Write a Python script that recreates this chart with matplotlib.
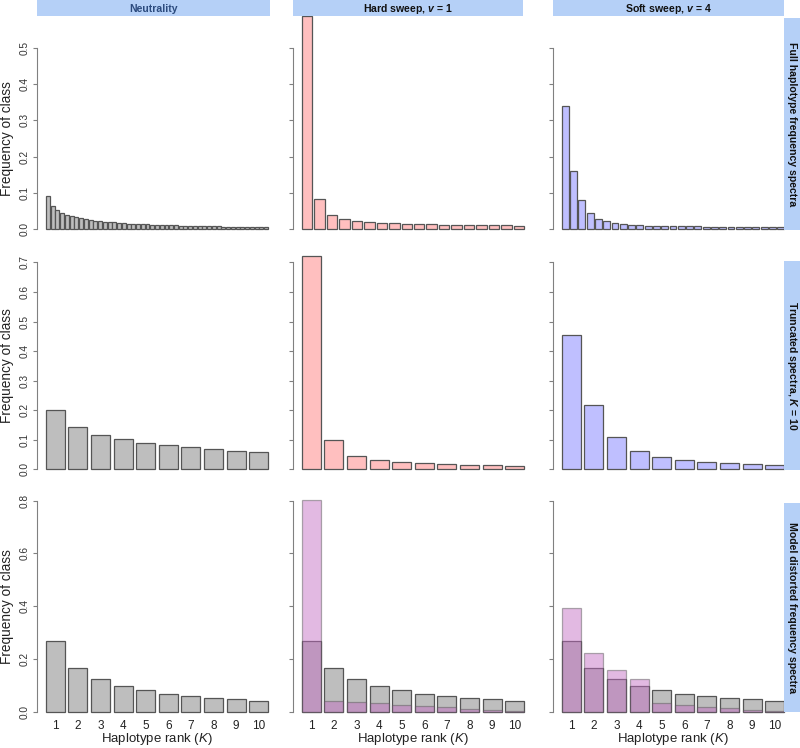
import matplotlib
matplotlib.use('Agg')
import matplotlib.pyplot as plt
from matplotlib.patches import Rectangle
from matplotlib.transforms import blended_transform_factory

plt.rcParams['font.family'] = ['Liberation Sans', 'DejaVu Sans']
plt.rcParams['mathtext.fontset'] = 'custom'
plt.rcParams['mathtext.rm'] = 'Liberation Sans'
plt.rcParams['mathtext.it'] = 'Liberation Sans:italic'
plt.rcParams['mathtext.bf'] = 'Liberation Sans:bold'
plt.rcParams['mathtext.bfit'] = 'Liberation Sans:bold:italic'

# ---------------- data ----------------
col_titles = ['Neutrality', r'Hard sweep, $\mathbfit{v}$ = 1', r'Soft sweep, $\mathbfit{v}$ = 4']
row_titles = ['Full haplotype frequency spectra',
              r'Truncated spectra, $\mathbfit{K}$ = 10',
              'Model distorted frequency spectra']
ranks = [1, 2, 3, 4, 5, 6, 7, 8, 9, 10]

# row 1: full spectra
full_neutral = [0.092, 0.064, 0.052, 0.045, 0.039, 0.035, 0.032, 0.029, 0.027, 0.025,
                0.023, 0.021, 0.020, 0.019, 0.018, 0.017, 0.016, 0.015, 0.014, 0.0135,
                0.013, 0.0125, 0.012, 0.0115, 0.011, 0.0105, 0.010, 0.0097, 0.0094, 0.0091,
                0.0088, 0.0085, 0.0082, 0.0079, 0.0076, 0.0073, 0.007, 0.0067, 0.0064, 0.0061,
                0.0058, 0.0055, 0.0052, 0.005, 0.0048, 0.0046, 0.0044]
full_hard = [0.588, 0.082, 0.039, 0.028, 0.022, 0.019, 0.017, 0.016, 0.015, 0.014,
             0.013, 0.012, 0.012, 0.011, 0.011, 0.010, 0.010, 0.009]
full_soft = [0.340, 0.160, 0.079, 0.043, 0.028, 0.021, 0.016, 0.013, 0.012, 0.010,
             0.0095, 0.009, 0.0085, 0.008, 0.0077, 0.0074, 0.0071, 0.0068, 0.0065, 0.0062,
             0.006, 0.0058, 0.0056, 0.0054, 0.0052, 0.005, 0.0048]

# row 2: truncated, K = 10
trunc_neutral = [0.200, 0.143, 0.118, 0.102, 0.091, 0.082, 0.075, 0.069, 0.064, 0.058]
trunc_hard = [0.722, 0.100, 0.045, 0.032, 0.025, 0.021, 0.018, 0.015, 0.014, 0.012]
trunc_soft = [0.454, 0.218, 0.110, 0.061, 0.041, 0.032, 0.026, 0.021, 0.020, 0.016]

# row 3: model distorted
dist_neutral = [0.268, 0.165, 0.123, 0.096, 0.081, 0.067, 0.058, 0.051, 0.047, 0.042]
dist_hard = [0.803, 0.041, 0.035, 0.032, 0.025, 0.022, 0.017, 0.011, 0.006, 0.001]
dist_soft = [0.392, 0.221, 0.157, 0.123, 0.034, 0.025, 0.019, 0.013, 0.008, 0.002]

row_ticks = [[0.0, 0.1, 0.2, 0.3, 0.4, 0.5],
             [0.0, 0.1, 0.2, 0.3, 0.4, 0.5, 0.6, 0.7],
             [0.0, 0.2, 0.4, 0.6, 0.8]]

# ---------------- style ----------------
C_GREY = '#bebebe'
C_PINK = '#ffbfbf'
C_BLUE = '#bfbfff'
C_OVER = '#c26ac2'
C_EDGE = '#555555'
C_STRIP = '#b5d0f7'
BW = 1 / 1.2  # R barplot: width 1, space 0.2

W, H = 800, 748
fig = plt.figure(figsize=(W / 100, H / 100), dpi=100)

col_x = [37, 293, 553]
col_w = 240
row_y = [(7.6, 237.5), (247.4, 478.0), (491.4, 720.2)]


def add_ax(x0, y0, x1, y1):
    return fig.add_axes([x0 / W, 1 - y1 / H, (x1 - x0) / W, (y1 - y0) / H])


panels = [
    [[(full_neutral, C_GREY)], [(full_hard, C_PINK)], [(full_soft, C_BLUE)]],
    [[(trunc_neutral, C_GREY)], [(trunc_hard, C_PINK)], [(trunc_soft, C_BLUE)]],
    [[(dist_neutral, C_GREY)],
     [(dist_neutral, C_GREY), (dist_hard, C_OVER)],
     [(dist_neutral, C_GREY), (dist_soft, C_OVER)]],
]

for r in range(3):
    row_max = max(max(vals) for col in panels[r] for vals, _ in col)
    for c in range(3):
        y0, y1 = row_y[r]
        ax = add_ax(col_x[c], y0, col_x[c] + col_w, y1)
        for vals, color in panels[r][c]:
            xs = list(range(1, len(vals) + 1))
            alpha = 0.47 if color == C_OVER else 1.0
            ax.bar(xs, vals, width=BW, color=color, alpha=alpha,
                   edgecolor=C_EDGE, linewidth=0.9)
        ax.use_sticky_edges = False
        ax.set_xmargin(0.04)
        ax.autoscale_view(scaley=False)
        ax.set_ylim(-0.04 * row_max, 1.04 * row_max)
        for s in ['top', 'right', 'bottom']:
            ax.spines[s].set_visible(False)
        ax.spines['left'].set_bounds(0, row_ticks[r][-1])
        ax.spines['left'].set_color('#808080')
        ax.set_yticks(row_ticks[r])
        ax.tick_params(axis='y', direction='out', length=3, color='#808080',
                       labelsize=7.3, labelcolor='#333333', labelrotation=90, pad=2)
        if c == 0:
            ax.set_yticklabels(['%.1f' % t for t in row_ticks[r]], va='center')
            ax.set_ylabel('Frequency of class', fontsize=9.8, color='#222222')
            tr = blended_transform_factory(fig.transFigure, ax.transData)
            ax.yaxis.set_label_coords(14 / W, row_ticks[r][-1] / 2, transform=tr)
        else:
            ax.set_yticklabels([])
        if r == 2:
            ax.set_xticks(ranks)
            ax.set_xticklabels([str(k) for k in ranks])
            ax.tick_params(axis='x', length=0, labelsize=8.5, labelcolor='#222222', pad=0)
            ax.set_xlabel(r'Haplotype rank ($\mathit{K}$)', fontsize=9.5, color='#222222')
            tr = blended_transform_factory(ax.transAxes, fig.transFigure)
            ax.xaxis.set_label_coords(0.5, 1 - 731 / H, transform=tr)
        else:
            ax.set_xticks([])

# column strips
strip_cols = [(37, 270), (293, 523), (553, 784)]
for i, (x0, x1) in enumerate(strip_cols):
    fig.add_artist(Rectangle((x0 / W, 1 - 16 / H), (x1 - x0) / W, 16 / H,
                             transform=fig.transFigure, facecolor=C_STRIP,
                             edgecolor='none', zorder=5))
    fig.text((x0 + x1) / 2 / W, 1 - 8.5 / H, col_titles[i], ha='center', va='center',
             fontsize=7.6, fontweight='bold', zorder=6,
             color='#2c4b7e' if i == 0 else '#111111')

# row strips
strip_rows = [(18, 230), (261, 470), (503, 712)]
for i, (y0, y1) in enumerate(strip_rows):
    fig.add_artist(Rectangle((784 / W, 1 - y1 / H), 16 / W, (y1 - y0) / H,
                             transform=fig.transFigure, facecolor=C_STRIP,
                             edgecolor='none', zorder=5))
    fig.text(792 / W, 1 - (y0 + y1) / 2 / H, row_titles[i], ha='center', va='center',
             rotation=270, fontsize=7.6, fontweight='bold', zorder=6, color='#111111')

fig.savefig('out.png', dpi=100)
